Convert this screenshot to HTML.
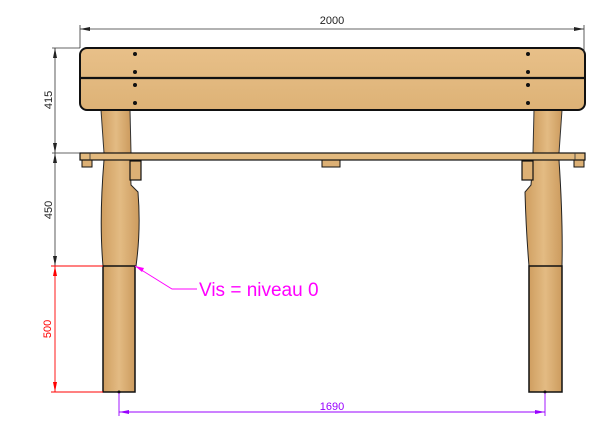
<!DOCTYPE html>
<html><head><meta charset="utf-8"><style>
html,body{margin:0;padding:0;background:#fff;width:609px;height:425px;overflow:hidden}
text{font-family:"Liberation Sans",sans-serif}
</style></head><body>
<svg width="609" height="425" viewBox="0 0 609 425" xmlns="http://www.w3.org/2000/svg">
<defs>
<linearGradient id="w" x1="0" x2="1" y1="0" y2="0">
<stop offset="0" stop-color="#cf9e60"/><stop offset="0.5" stop-color="#e3bb83"/><stop offset="1" stop-color="#cc9b5e"/>
</linearGradient>
<linearGradient id="b" x1="0" x2="0" y1="0" y2="1">
<stop offset="0" stop-color="#e8c089"/><stop offset="1" stop-color="#ddb276"/>
</linearGradient>
</defs>
<path d="M101 110 L130 110 L131 153 L104 153 Z" fill="url(#w)" stroke="#333" stroke-width="1"/>
<path d="M534 110 L562 110 L559 153 L533 153 Z" fill="url(#w)" stroke="#333" stroke-width="1"/>
<path d="M104 160 L130 160 L131 185 L138 192 Q141 230 136 266 L103 266 Q99 220 104 160 Z" fill="url(#w)" stroke="#222" stroke-width="1"/>
<path d="M533 160 L559 160 Q563 220 562 266 L529 266 Q526 230 525 192 L531 185 Z" fill="url(#w)" stroke="#222" stroke-width="1"/>
<rect x="103" y="266" width="32" height="126" fill="url(#w)" stroke="#111" stroke-width="1.5"/>
<rect x="529" y="266" width="33" height="126" fill="url(#w)" stroke="#111" stroke-width="1.5"/>
<rect x="130" y="161" width="11" height="19" fill="#dcb075" stroke="#111" stroke-width="1.2"/>
<rect x="522" y="161" width="11" height="19" fill="#dcb075" stroke="#111" stroke-width="1.2"/>
<rect x="82" y="160" width="10" height="7" fill="#dcb075" stroke="#111" stroke-width="1"/>
<rect x="574" y="160" width="10" height="7" fill="#dcb075" stroke="#111" stroke-width="1"/>
<rect x="322" y="160" width="18" height="7" fill="#dcb075" stroke="#111" stroke-width="1"/>
<rect x="80" y="153" width="505" height="7" fill="#e2b97e" stroke="#111" stroke-width="1.2"/>
<line x1="90" y1="153" x2="90" y2="160" stroke="#333" stroke-width="0.8"/>
<line x1="575" y1="153" x2="575" y2="160" stroke="#333" stroke-width="0.8"/>
<rect x="80" y="48" width="505" height="62" rx="7" fill="url(#b)" stroke="#111" stroke-width="2"/>
<line x1="80" y1="78" x2="585" y2="78" stroke="#111" stroke-width="2.2"/>
<g fill="#111">
<circle cx="135" cy="54" r="2"/><circle cx="135" cy="72" r="2"/><circle cx="135" cy="85" r="2"/><circle cx="135" cy="103" r="2"/>
<circle cx="528" cy="54" r="2"/><circle cx="528" cy="72" r="2"/><circle cx="528" cy="85" r="2"/><circle cx="528" cy="103" r="2"/>
</g>
<g stroke="#333" stroke-width="0.8" fill="none">
<line x1="80" y1="25" x2="80" y2="48"/><line x1="584" y1="25" x2="584" y2="52"/>
<line x1="80" y1="29" x2="584" y2="29"/>
<line x1="52" y1="48" x2="80" y2="48"/><line x1="52" y1="153" x2="80" y2="153"/>
<line x1="55" y1="48" x2="55" y2="266"/>
</g>
<g fill="#222">
<polygon points="80,29 90,27 90,31"/><polygon points="584,29 574,27 574,31"/>
<polygon points="55,48 53,58 57,58"/><polygon points="55,153 53,143 57,143"/>
<polygon points="55,153 53,163 57,163"/><polygon points="55,266 53,256 57,256"/>
</g>
<text x="332" y="24" font-size="11" text-anchor="middle" fill="#222">2000</text>
<text transform="translate(52,100) rotate(-90)" font-size="11" text-anchor="middle" fill="#222">415</text>
<text transform="translate(52,210) rotate(-90)" font-size="11" text-anchor="middle" fill="#222">450</text>
<g stroke="#f00" stroke-width="0.9">
<line x1="51" y1="266" x2="103" y2="266"/><line x1="51" y1="392" x2="103" y2="392"/>
<line x1="55" y1="266" x2="55" y2="392"/>
</g>
<g fill="#f00"><polygon points="55,266 53,276 57,276"/><polygon points="55,392 53,382 57,382"/></g>
<text transform="translate(51,329) rotate(-90)" font-size="11" text-anchor="middle" fill="#f00">500</text>
<g stroke="#f0f" stroke-width="0.9" fill="none">
<polyline points="135,266 172,289 197,289"/>
</g>
<polygon points="135,266 144,268 142,272" fill="#f0f"/>
<text x="199" y="296" font-size="19" fill="#f0f">Vis = niveau 0</text>
<circle cx="119" cy="392" r="1.5" fill="#111"/><circle cx="545" cy="392" r="1.5" fill="#111"/>
<g stroke="#90f" stroke-width="0.9">
<line x1="119" y1="393" x2="119" y2="416"/><line x1="545" y1="393" x2="545" y2="416"/>
<line x1="119" y1="412" x2="545" y2="412"/>
</g>
<g fill="#90f"><polygon points="119,412 129,410 129,414"/><polygon points="545,412 535,410 535,414"/></g>
<text x="332" y="410" font-size="11" text-anchor="middle" fill="#90f">1690</text>
</svg>
</body></html>
